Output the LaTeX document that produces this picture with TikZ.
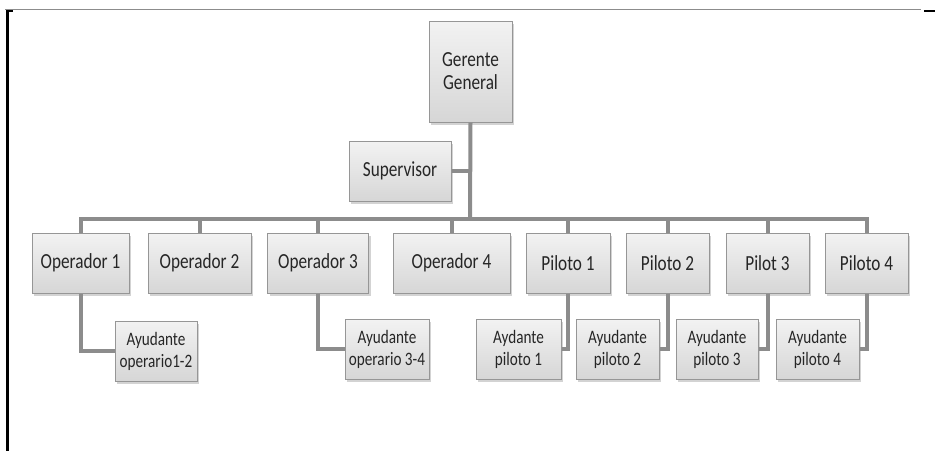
\documentclass[tikz,border=0pt]{standalone}
\usepackage{fontspec}
\setmainfont[FakeStretch=0.8]{Carlito}
\usetikzlibrary{shadows}
\definecolor{linegray}{RGB}{140,140,140}
\definecolor{boxborder}{RGB}{150,150,150}
\begin{document}
\begin{tikzpicture}[x=1pt, y=-1pt,
    box/.style={draw=boxborder, line width=1pt, top color=white!95!black, bottom color=black!16,
        drop shadow={shadow xshift=2pt, shadow yshift=-3pt, opacity=0.35},
        align=center, inner sep=0pt, minimum height=60pt, text=black!85,
        font=\fontsize{21.5}{23}\selectfont},
    subbox/.style={box, font=\fontsize{19}{22}\selectfont},
    link/.style={draw=linegray, line width=4pt}]

    \useasboundingbox (0,0) rectangle (935,451);

    % Frame
    \draw[black!45, line width=1pt] (5,9) -- (921,9);
    \draw[black, line width=3pt] (7,11) -- (7,451);
    \draw[black, line width=2pt] (6,11) -- (13,11);
    \draw[black, line width=2pt] (924,11) -- (935,11);

    % Nodes
    \node (gerente) at (470.5,71.5) [box, minimum width=83pt, minimum height=101pt] {Gerente\\General};
    \node (supervisor) at (400,171) [box, minimum width=102pt] {Supervisor};
    \coordinate (bus) at (470,219);

    \node (op1) at (80.5,263) [box, minimum width=97pt] {Operador 1};
    \node (op2) at (199.5,263) [box, minimum width=103pt] {Operador 2};
    \node (op3) at (318,263) [box, minimum width=101pt] {Operador 3};
    \node (op4) at (451.5,263) [box, minimum width=117pt] {Operador 4};
    \node (p1) at (568,263) [box, minimum width=84pt] {Piloto 1};
    \node (p2) at (667.5,263) [box, minimum width=83pt] {Piloto 2};
    \node (p3) at (767.5,263) [box, minimum width=83pt] {Pilot 3};
    \node (p4) at (866.5,263) [box, minimum width=83pt] {Piloto 4};

    \node (ay_op12) at (156,351) [subbox, minimum width=82pt] {Ayudante\\operario1-2};
    \node (ay_op34) at (387,349) [subbox, minimum width=84pt] {Ayudante\\operario 3-4};
    \node (ay_p1) at (518.5,349) [subbox, minimum width=85pt] {Aydante\\piloto 1};
    \node (ay_p2) at (617.5,349) [subbox, minimum width=83pt] {Ayudante\\piloto 2};
    \node (ay_p3) at (717,349) [subbox, minimum width=82pt] {Ayudante\\piloto 3};
    \node (ay_p4) at (817.5,349) [subbox, minimum width=83pt] {Ayudante\\piloto 4};

    % Edges
    \draw[link] (gerente.south) -- (bus);
    \draw[link] (supervisor.east) -- (supervisor.east -| gerente.south);
    \draw[link] (op1.north) |- (bus) -| (p4.north);
    \foreach \n in {op2,op3,op4,p1,p2,p3}
        \draw[link] (\n.north) -- (\n.north |- bus);

    \draw[link] (op1.south) |- (ay_op12.west);
    \draw[link] (op3.south) |- (ay_op34.west);
    \draw[link] (p1.south) |- (ay_p1.east);
    \draw[link] (p2.south) |- (ay_p2.east);
    \draw[link] (p3.south) |- (ay_p3.east);
    \draw[link] (p4.south) |- (ay_p4.east);

\end{tikzpicture}
\end{document}
